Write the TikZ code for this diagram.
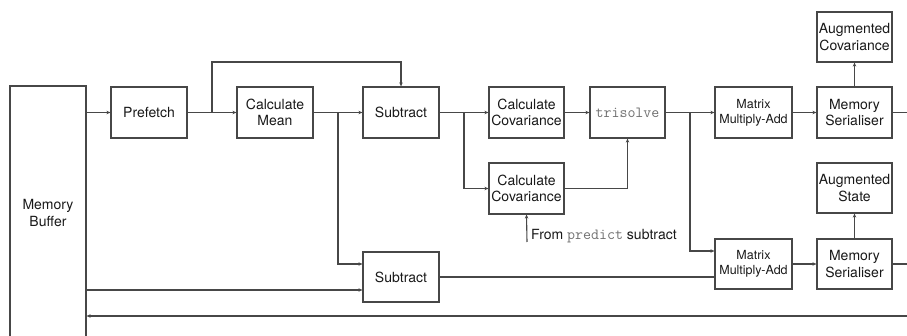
\documentclass[tikz,border=0pt]{standalone}
\usepackage{fontspec}
\setmainfont{TeX Gyre Heros}
\usetikzlibrary{arrows.meta,calc}
\definecolor{ln}{HTML}{474747}
\definecolor{mono}{HTML}{707070}
\tikzset{
  blk/.style={draw=ln, line width=1.2pt, fill=white, align=center, inner sep=0pt,
    font=\fontsize{14}{16.5}\selectfont, text=black!90},
  small/.style={font=\fontsize{12.5}{15}\selectfont},
  conn/.style={draw=ln, line width=1.1pt},
  arr/.style={conn, -{Stealth[length=4pt,width=3.5pt]}},
}
\newcommand{\mtt}[1]{{\fontsize{15.5}{16}\ttfamily\color{mono}#1}}
\begin{document}
\begin{tikzpicture}[x=1pt,y=-1pt]
\useasboundingbox (0,0) rectangle (907,336);
\clip (0,0) rectangle (907,336);
% boxes
\node[blk, minimum width=76, minimum height=254] (mem) at (48,213) {Memory\\Buffer};
\node[blk, minimum width=76, minimum height=51] (pre) at (149,112.5) {Prefetch};
\node[blk, minimum width=76, minimum height=51] (mean) at (275,112.5) {Calculate\\Mean};
\node[blk, minimum width=76, minimum height=51] (sub1) at (401,112.5) {Subtract};
\node[blk, minimum width=75, minimum height=51] (cov1) at (526.5,112.5) {Calculate\\Covariance};
\node[blk, minimum width=75, minimum height=51] (tri) at (627.5,112.5) {\mtt{trisolve}};
\node[blk, small, minimum width=77, minimum height=51] (mma1) at (753.5,112.5) {Matrix\\Multiply-Add};
\node[blk, minimum width=75, minimum height=51] (ms1) at (854.5,112.5) {Memory\\Serialiser};
\node[blk, minimum width=75, minimum height=50] (augc) at (854.5,37) {Augmented\\Covariance};
\node[blk, minimum width=75, minimum height=51] (cov2) at (526.5,188.5) {Calculate\\Covariance};
\node[blk, minimum width=76, minimum height=50] (sub2) at (401,277) {Subtract};
\node[blk, small, minimum width=77, minimum height=50] (mma2) at (753.5,264) {Matrix\\Multiply-Add};
\node[blk, minimum width=75, minimum height=50] (ms2) at (854.5,264) {Memory\\Serialiser};
\node[blk, minimum width=75, minimum height=50] (augs) at (854.5,188) {Augmented\\State};
\node[anchor=west, inner sep=0pt, font=\fontsize{14}{16}\selectfont, text=black!90] (fromlbl) at (531,236.5) {From \mtt{predict} subtract};
% coordinates
\coordinate (j1) at (212,112.5);
\coordinate (t1) at (212,62);
\coordinate (j2) at (338,112.5);
\coordinate (j3) at (464,112.5);
\coordinate (j4) at (690,112.5);
\coordinate (fp) at (527,242);
\coordinate (out1) at (910,112.5);
\coordinate (out2) at (910,264);
\coordinate (back) at (910,316);
\coordinate (s2a) at ($(sub2.west)+(0,-13)$);
\coordinate (s2b) at ($(sub2.west)+(0,13)$);
\coordinate (m2a) at ($(mma2.west)+(0,-13)$);
\coordinate (m2b) at ($(mma2.west)+(0,13)$);
% connectors
\draw[arr] (mem.east |- pre.west) -- (pre.west);
\draw[arr] (pre.east) -- (mean.west);
\draw[arr] (j1) -- (t1) -| (sub1.north);
\draw[arr] (mean.east) -- (sub1.west);
\draw[arr] (j2) |- (s2a);
\draw[arr] (mem.east |- s2b) -- (s2b);
\draw[arr] (sub1.east) -- (cov1.west);
\draw[arr] (j3) |- (cov2.west);
\draw[arr] (cov1.east) -- (tri.west);
\draw[arr] (cov2.east) -| (tri.south);
\draw[arr] (fp) -- (cov2.south);
\draw[arr] (tri.east) -- (mma1.west);
\draw[arr] (j4) |- (m2a);
\draw[conn] (sub2.east) -- (sub2.east -| m2b) -- (m2b);
\draw[arr] (mma1.east) -- (ms1.west);
\draw[arr] (ms1.north) -- (augc.south);
\draw[conn] (ms1.east) -- (out1);
\draw[arr] (mma2.east) -- (ms2.west);
\draw[arr] (ms2.north) -- (augs.south);
\draw[conn] (ms2.east) -- (out2);
\draw[arr] (back) -- (mem.east |- back);
\end{tikzpicture}
\end{document}
